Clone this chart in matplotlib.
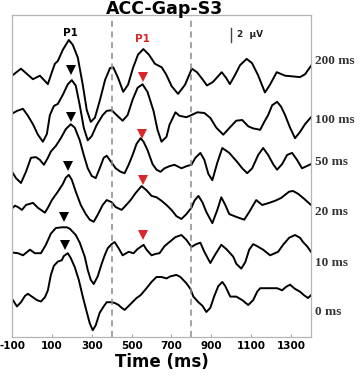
import matplotlib
matplotlib.use("Agg")
import matplotlib.pyplot as plt
import numpy as np

# ---------------- data ----------------
conditions = ["200 ms", "100 ms", "50 ms", "20 ms", "10 ms", "0 ms"]

t_200 = [-100,-55,5,40,80,100,115,130,155,185,205,230,255,275,295,316,341,367,392,408,432,458,482,507,532,559,587,617,651,673,701,733,768,802,828,858,878,908,952,974,993,1019,1044,1077,1104,1134,1169,1194,1228,1270,1345,1370,1400]
v_200 = [-2.1,-1.1,-2.6,-2.1,-3.3,-1.6,-0.4,0.0,1.6,3.0,2.3,0.5,-3.4,-7.0,-8.7,-8.1,-5.6,-2.7,-1.0,-0.9,-2.4,-4.4,-3.4,-1.0,0.9,1.7,0.9,-0.4,-0.9,-1.9,-3.6,-4.7,-3.4,-1.1,-1.6,-2.7,-3.5,-3.0,-1.6,-2.4,-3.3,-2.0,-0.6,0.3,-0.3,-2.0,-4.5,-3.4,-1.6,-2.1,-2.3,-1.9,-0.7]

t_100 = [-100,-75,-45,-20,5,30,55,75,90,110,130,155,180,200,220,240,260,280,300,325,355,375,400,425,455,480,505,530,555,580,610,630,650,675,690,720,740,775,800,830,865,895,925,960,995,1025,1055,1085,1110,1145,1165,1185,1205,1230,1250,1270,1295,1320,1345,1370,1400]
v_100 = [0.9,1.3,1.6,0.6,-0.6,-2.1,-3.1,-2.0,0.7,2.0,2.3,3.6,5.1,5.7,4.9,2.1,-1.1,-2.9,-2.3,-0.7,0.7,1.3,1.4,0.7,-0.1,0.7,2.9,4.6,5.1,4.0,1.3,-1.4,-3.1,-2.4,-0.7,1.1,0.6,0.4,0.7,1.1,1.0,0.3,-1.1,-2.1,-1.0,-0.1,0.0,-0.9,-1.2,-1.4,-0.3,0.7,2.1,2.6,1.9,0.7,-1.1,-2.6,-1.7,-0.6,0.4]

t_50 = [-100,-80,-55,-30,-5,20,40,60,80,95,120,145,170,195,215,240,260,280,300,320,340,360,375,395,420,445,465,485,505,525,545,560,580,605,625,645,665,690,715,750,775,800,820,845,865,885,905,930,955,990,1030,1055,1080,1105,1135,1160,1185,1210,1230,1255,1280,1305,1330,1355,1400]
v_50 = [-1.4,-2.3,-3.0,-1.4,0.6,0.7,0.3,-0.4,0.6,1.5,2.3,3.4,4.7,5.4,4.9,3.1,1.0,-0.9,-2.0,-2.3,-0.9,0.6,0.9,0.1,-0.9,-1.4,-1.6,-0.4,1.0,2.6,3.4,2.9,1.7,-0.3,-1.1,-1.4,-0.9,-0.6,-0.4,-0.9,-0.6,-0.4,0.6,1.3,0.3,-1.7,-2.6,-0.1,2.0,1.3,0.0,-0.9,-1.6,-0.9,1.0,2.0,1.0,-0.3,-1.1,-0.3,1.0,1.3,0.3,-0.9,-0.3]

t_20 = [-100,-85,-70,-50,-30,5,30,65,80,100,130,155,170,185,200,220,245,270,290,310,330,355,375,400,420,450,470,495,520,550,575,600,625,650,675,700,725,750,775,800,815,835,855,875,905,930,950,970,990,1025,1065,1090,1125,1155,1190,1220,1250,1290,1310,1335,1365,1400]
v_20 = [0.5,0.9,0.7,0.3,1.0,1.3,0.6,-0.1,0.6,1.7,2.9,4.0,4.9,5.3,4.6,2.9,1.0,-0.3,-1.1,-1.4,-0.4,1.0,1.7,1.4,0.7,0.3,0.9,1.7,2.7,3.7,3.1,2.3,2.1,1.6,1.0,0.3,-0.6,-1.0,-0.3,0.6,1.6,2.3,1.4,0.0,-1.6,0.3,2.1,1.0,-0.3,-0.7,-1.1,0.0,1.7,1.0,1.3,1.6,2.0,2.9,3.0,2.6,1.9,1.0]

t_10 = [-100,-70,-45,-10,15,45,70,95,120,150,175,190,220,240,265,280,295,310,330,350,365,380,400,415,435,455,485,510,530,560,575,600,620,640,665,690,720,750,775,800,825,845,865,895,915,950,975,1010,1025,1050,1070,1090,1110,1130,1160,1195,1235,1260,1290,1320,1345,1360,1380,1400]
v_10 = [1.5,1.4,1.1,1.9,1.4,1.4,2.6,4.2,5.0,5.1,5.1,4.9,4.0,2.9,0.9,-1.0,-2.4,-3.0,-1.9,-0.1,1.1,2.1,2.7,3.0,2.1,1.1,1.6,1.4,2.0,2.6,1.9,1.1,1.3,1.4,2.4,3.0,3.7,4.0,3.3,2.3,2.7,2.9,1.6,0.0,1.0,2.6,2.0,0.9,-0.1,-0.8,0.1,1.9,2.7,2.4,1.9,1.1,1.6,2.6,3.6,4.0,3.6,3.0,2.4,1.6]

t_0 = [-100,-75,-55,-35,-20,5,25,45,65,80,95,110,130,150,160,180,195,215,235,255,275,290,305,320,340,360,375,395,415,435,450,465,490,525,545,575,600,625,650,675,695,725,745,775,795,810,835,855,875,895,915,935,955,970,995,1025,1055,1085,1110,1130,1145,1180,1230,1255,1275,1295,1320,1345,1365,1385,1400]
v_0 = [1.9,0.8,1.4,2.3,2.6,2.1,1.7,1.5,2.1,3.1,5.3,6.6,7.2,7.4,8.0,8.4,7.7,6.4,4.6,2.2,0.0,-1.6,-2.6,-1.9,-0.1,0.8,1.4,1.4,1.3,1.0,0.6,0.3,1.0,2.0,2.4,3.4,4.3,5.0,5.0,4.8,5.1,5.3,5.0,4.1,3.3,2.2,1.4,0.9,0.0,0.6,2.3,3.7,4.3,3.7,2.2,2.2,1.7,1.0,1.7,2.9,3.4,3.4,3.4,3.1,3.6,3.9,3.3,2.9,2.4,2.0,2.4]

series_t = [t_200, t_100, t_50, t_20, t_10, t_0]
series_v = [v_200, v_100, v_50, v_20, v_10, v_0]

# P1 markers (time in ms, amplitude in uV relative to each trace baseline)
black_idx = [1, 2, 3, 4, 5]
black_t = [196, 196, 182, 162, 167]
black_v = [7.1, 6.4, 6.6, 6.6, 9.6]
red_idx = [1, 2, 3, 4]
red_t = [557, 550, 555, 557]
red_v = [6.1, 4.0, 4.6, 4.0]

x_ticks = [-100, 100, 300, 500, 700, 900, 1100, 1300]
window_lines = [400, 800]

# ---------------- layout ----------------
baselines = [-6.57, -15.0, -21.0, -28.14, -35.43, -42.43]   # trace offsets (uV units)

fig = plt.figure(figsize=(3.6, 3.78), dpi=100)
ax = fig.add_axes([12/360, 1-337/378, 299/360, 322/378])
ax.set_xlim(-100, 1400)
ax.set_ylim(-46, 0)

for tt, vv, b in zip(series_t, series_v, baselines):
    ax.plot(tt, np.array(vv) + b, color="black", lw=1.4, solid_joinstyle="round")

for x in window_lines:
    ax.axvline(x, color="#8a8a8a", ls=(0, (4, 3)), lw=1.1)

for i, t, v in zip(black_idx, black_t, black_v):
    ax.plot(t, baselines[i] + v, marker="v", color="black", ms=6.5, mew=0)
for i, t, v in zip(red_idx, red_t, red_v):
    ax.plot(t, baselines[i] + v, marker="v", color="#d8262a", ms=6.5, mew=0)

ax.text(195, -(33-15)/7, "P1", ha="center", va="center", fontsize=7.5,
        fontweight="bold", color="black", family="DejaVu Sans")
ax.text(555, -(39-15)/7, "P1", ha="center", va="center", fontsize=7.5,
        fontweight="bold", color="#d8262a", family="DejaVu Sans")

# scale bar 2 uV
ax.plot([1000, 1000], [-(27.5-15)/7, -(27.5-15)/7 - 2], color="#444444", lw=1.0)
ax.text(1030, -(34.5-15)/7, "2  \u03bcV", ha="left", va="center", fontsize=6.5,
        fontweight="bold", color="#222222", family="DejaVu Sans")

for lab, b in zip(conditions, baselines):
    ax.text(1.012, (b + 46) / 46, lab, transform=ax.transAxes, ha="left", va="center",
            fontsize=9.5, fontweight="bold", color="#333333", family="Liberation Serif")

ax.set_xticks(x_ticks)
ax.set_xticklabels([str(v) for v in x_ticks], fontsize=7.5, fontweight="bold",
                   family="DejaVu Sans")
ax.tick_params(axis="x", direction="in", length=2.5, color="#aaaaaa", pad=3)
ax.set_yticks([])
for s in ax.spines.values():
    s.set_color("#b5b5b5")
    s.set_linewidth(0.9)

ax.set_xlabel("Time (ms)", fontsize=12, fontweight="bold", family="DejaVu Sans", labelpad=1)
fig.text(165/360, 1 - 0.5/378, "ACC-Gap-S3", ha="center", va="top", fontsize=12.5,
         fontweight="bold", family="DejaVu Sans")

fig.savefig("out.png", dpi=100)
